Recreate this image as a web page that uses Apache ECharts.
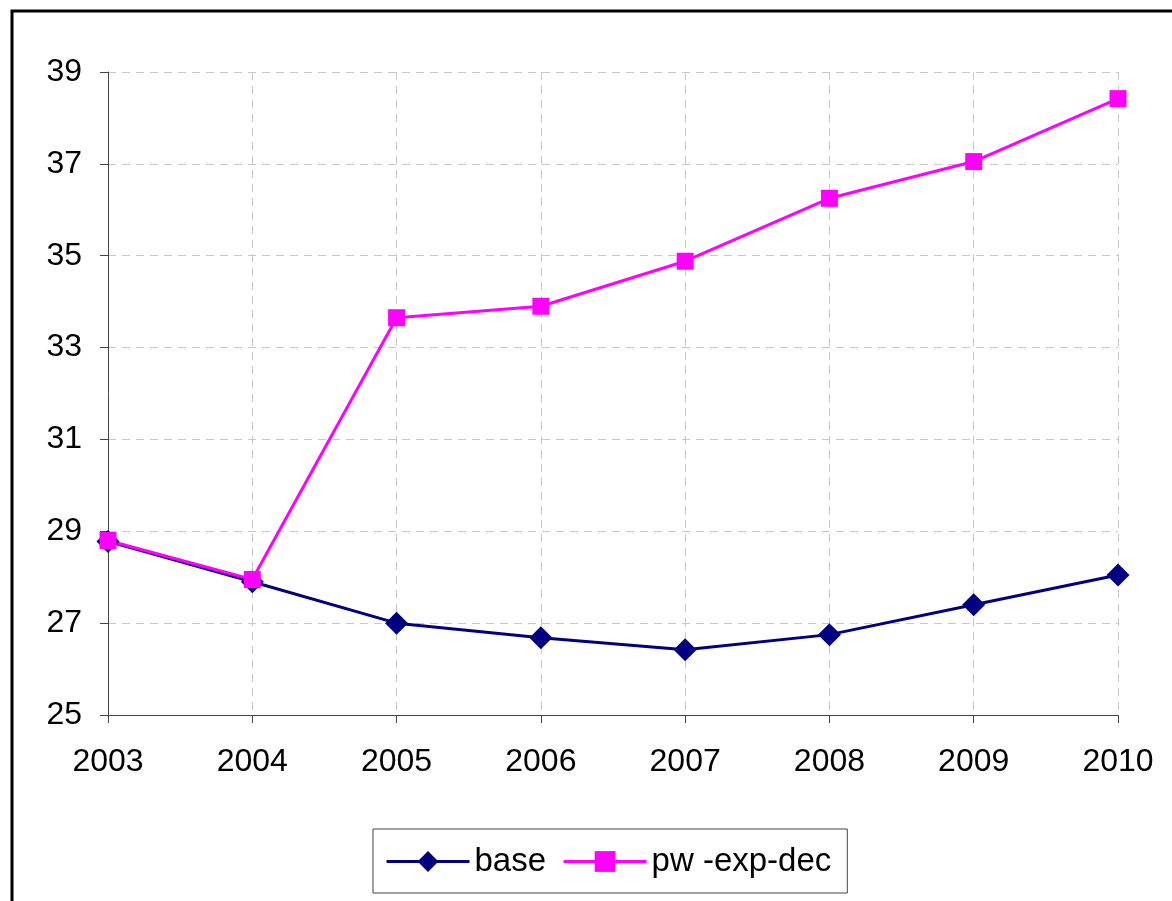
<!DOCTYPE html>
<html>
<head>
<meta charset="utf-8">
<script src="https://cdn.jsdelivr.net/npm/echarts@6/dist/echarts.min.js"></script>
<style>
  html, body { margin: 0; padding: 0; background: #fff; }
  #chart { width: 1172px; height: 901px; }
</style>
</head>
<body>
<div id="chart"></div>
<script>
// years on the x axis
const years = ['2003', '2004', '2005', '2006', '2007', '2008', '2009', '2010'];
// series values
const baseValues = [28.78, 27.9, 27.0, 26.68, 26.42, 26.75, 27.4, 28.05];
const pwExpDecValues = [28.8, 27.95, 33.65, 33.9, 34.88, 36.25, 37.05, 38.42];

const myChart = echarts.init(document.getElementById('chart'));

const font = 'Liberation Sans, Arial, sans-serif';

const option = {
  backgroundColor: '#fff',
  animation: false,
  graphic: [
    {
      // outer frame, its right and bottom edges run off the picture
      type: 'rect',
      shape: { x: 12, y: 11, width: 1300, height: 1000 },
      style: { fill: 'none', stroke: '#000', lineWidth: 3 },
      silent: true
    }
  ],
  grid: {
    left: 108,
    right: 54,
    top: 72,
    bottom: 186,
    containLabel: false
  },
  legend: {
    left: 373,
    top: 829,
    padding: [16, 16, 15, 12],
    borderColor: '#444',
    borderWidth: 1,
    itemWidth: 83,
    itemHeight: 26,
    itemGap: 16,
    lineStyle: { width: 3 },
    textStyle: { fontFamily: font, fontSize: 33, color: '#000' },
    data: ['base', 'pw -exp-dec']
  },
  xAxis: {
    type: 'category',
    data: years,
    boundaryGap: false,
    axisLine: { lineStyle: { color: '#444', width: 1 } },
    axisTick: { show: true, alignWithLabel: true, length: 8, lineStyle: { color: '#444' } },
    axisLabel: { fontFamily: font, fontSize: 32, color: '#000', margin: 31 },
    splitLine: { show: true, lineStyle: { color: '#c8c8c8', type: [8, 6], width: 1 } }
  },
  yAxis: {
    type: 'value',
    min: 25,
    max: 39,
    interval: 2,
    axisLine: { show: true, lineStyle: { color: '#444', width: 1 } },
    axisTick: { show: true, length: 8, lineStyle: { color: '#444' } },
    axisLabel: { fontFamily: font, fontSize: 32, color: '#000', margin: 26 },
    splitLine: { show: true, lineStyle: { color: '#c8c8c8', type: [8, 6], width: 1 } }
  },
  series: [
    {
      name: 'base',
      type: 'line',
      data: baseValues,
      symbol: 'diamond',
      symbolSize: 23,
      lineStyle: { color: '#000080', width: 3 },
      itemStyle: { color: '#000080' }
    },
    {
      name: 'pw -exp-dec',
      type: 'line',
      data: pwExpDecValues,
      symbol: 'rect',
      symbolSize: 17,
      lineStyle: { color: '#ff00ff', width: 3 },
      itemStyle: { color: '#ff00ff' }
    }
  ]
};

myChart.setOption(option);
</script>
</body>
</html>
